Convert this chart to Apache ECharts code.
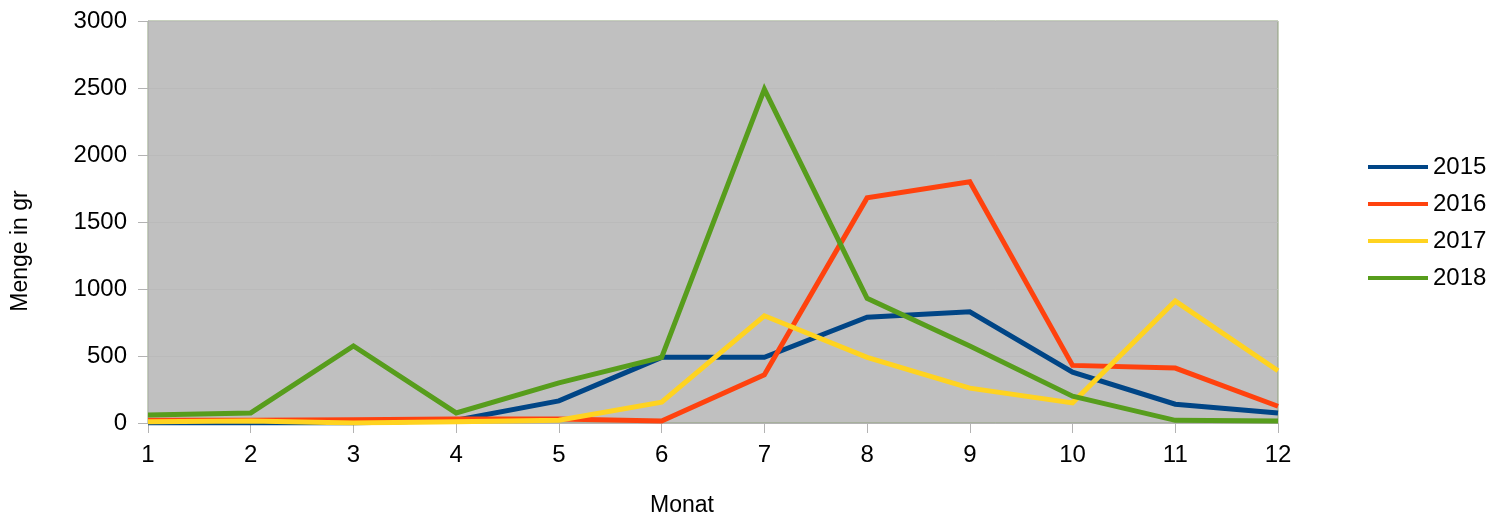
<!DOCTYPE html>
<html>
<head>
<meta charset="utf-8">
<script src="https://cdn.jsdelivr.net/npm/echarts@6/dist/echarts.min.js"></script>
<style>
  html, body { margin: 0; padding: 0; background: #fff; }
  #chart { width: 1501px; height: 522px; }
</style>
</head>
<body>
<div id="chart"></div>
<script>
// Monthly amounts (gr) per year
const months = [1, 2, 3, 4, 5, 6, 7, 8, 9, 10, 11, 12];
const years = ['2015', '2016', '2017', '2018'];
const data2015 = [0, 0, 0, 20, 165, 490, 490, 790, 830, 380, 140, 75];
const data2016 = [20, 20, 25, 30, 30, 15, 360, 1680, 1800, 430, 410, 125];
const data2017 = [10, 15, 0, 10, 20, 155, 800, 490, 260, 150, 910, 390];
const data2018 = [60, 75, 575, 75, 300, 490, 2490, 930, 575, 200, 20, 15];
const colors = ['#004586', '#ff420e', '#ffd320', '#579d1c'];

const chart = echarts.init(document.getElementById('chart'), null, { renderer: 'canvas' });
const font = 'Liberation Sans, Arial, sans-serif';

const series = [data2015, data2016, data2017, data2018].map((vals, i) => ({
  name: years[i],
  type: 'line',
  showSymbol: false,
  symbol: 'none',
  lineStyle: { width: 5, color: colors[i], join: 'miter' },
  itemStyle: { color: colors[i] },
  data: months.map((m, j) => [m, vals[j]])
}));

chart.setOption({
  animation: false,
  textStyle: { fontFamily: font },
  grid: {
    left: 148, right: 223, top: 21, bottom: 95,
    show: true,
    backgroundColor: '#c0c0c0',
    borderColor: '#8fa07a',
    borderWidth: 1
  },
  legend: {
    orient: 'vertical',
    left: 1363,
    top: 150,
    itemWidth: 60,
    itemHeight: 4,
    itemGap: 13,
    icon: 'rect',
    textStyle: { fontSize: 24, lineHeight: 24, color: '#000', fontFamily: font, padding: [0, 0, 0, 0] },
    data: years
  },
  xAxis: {
    type: 'value',
    min: 1, max: 12, interval: 1,
    name: 'Monat',
    nameLocation: 'middle',
    nameGap: 71,
    nameTextStyle: { fontSize: 23, color: '#000', fontFamily: font, padding: [0, 62, 0, 0] },
    axisLine: { show: true, lineStyle: { color: '#b3b3b3', width: 1 } },
    axisTick: { show: true, length: 10, lineStyle: { color: '#b3b3b3' } },
    axisLabel: { fontSize: 24, color: '#000', margin: 20, fontFamily: font },
    splitLine: { show: false }
  },
  yAxis: {
    type: 'value',
    min: 0, max: 3000, interval: 500,
    name: 'Menge in gr',
    nameLocation: 'middle',
    nameGap: 116,
    nameRotate: 90,
    nameTextStyle: { fontSize: 23, color: '#000', fontFamily: font, padding: [0, 58, 0, 0] },
    axisLine: { show: true, lineStyle: { color: '#b3b3b3', width: 1 } },
    axisTick: { show: true, length: 10, lineStyle: { color: '#b3b3b3' } },
    axisLabel: { fontSize: 24, color: '#000', margin: 21, fontFamily: font, formatter: v => String(v) },
    splitLine: { show: true, lineStyle: { color: '#bababa', width: 1 } }
  },
  series
});
</script>
</body>
</html>
